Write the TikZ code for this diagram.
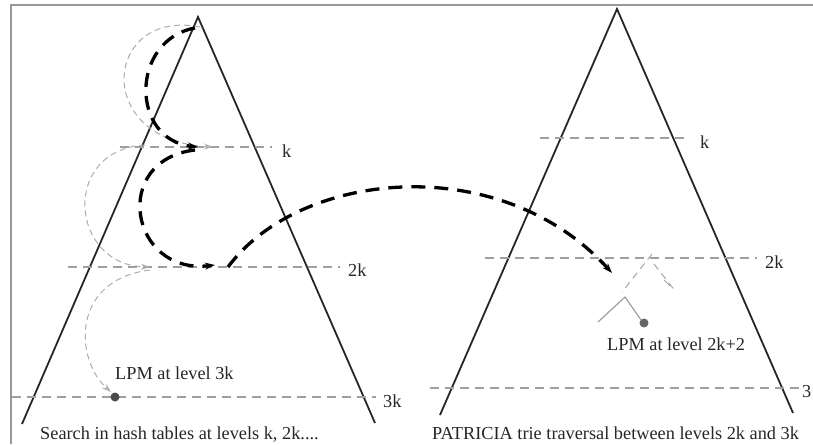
\documentclass[tikz,border=0pt]{standalone}
\usepackage{fontspec}
\setmainfont{Liberation Serif}
\usetikzlibrary{arrows.meta}
\begin{document}
\begin{tikzpicture}[x=1pt,y=-1pt,
  tri/.style={line width=1.8pt,black!85},
  level/.style={line width=1.4pt,gray!75,dash pattern=on 9pt off 6pt},
  thin/.style={line width=1pt,gray!65,dash pattern=on 6pt off 4pt},
  thick/.style={line width=3.3pt,black,dash pattern=on 14pt off 9pt},
  lab/.style={font=\fontsize{18.3}{20}\selectfont,text=black!85,inner sep=0pt,anchor=base west},
  frame/.style={line width=1.5pt,gray!80}]
\useasboundingbox (0,0) rectangle (813,444);
% frame
\draw[frame] (11,444) -- (11,5) -- (813,5);
% left triangle
\coordinate (LA) at (198,17);
\coordinate (LL) at (22,424);
\coordinate (LR) at (375,423);
\draw[tri] (LL) -- (LA) -- (LR);
% right triangle
\coordinate (RA) at (617,9);
\coordinate (RL) at (440,415);
\coordinate (RR) at (793,413);
\draw[tri] (RL) -- (RA) -- (RR);
% levels left
\draw[level] (120,147) -- (272,147);
\draw[level] (68,267) -- (340,267);
\draw[level] (12,397) -- (376,397);
% levels right
\draw[level] (540,138) -- (685,138);
\draw[level] (485,258) -- (757,258);
\draw[level] (430,388) -- (800,388);
% labels
\node[lab] (lk) at (282,157) {k};
\node[lab] (l2k) at (348,276) {2k};
\node[lab] (l3k) at (383,407) {3k};
\node[lab] (rk) at (700,148) {k};
\node[lab] (r2k) at (765,268) {2k};
\node[lab] (r3) at (802,397) {3};
\node[lab] (lpm1) at (115,379) {LPM at level 3k};
\node[lab] (lpm2) at (607,350) {LPM at level 2k+2};
\node[lab] (cap1) at (40,439) {Search in hash tables at levels k, 2k....};
\node[lab] (cap2) at (432,439) {PATRICIA trie traversal between levels 2k and 3k};
% dots
\fill[black!70] (115,397) circle (4.5);
\fill[black!60] (644,323) circle (4.5);
% thin gray search loops
\draw[thin,-{Stealth[open,length=9pt,width=6pt]}] (200,27) .. controls (105,8) and (90,140) .. (213,147);
\draw[thin,-{Stealth[open,length=9pt,width=6pt]}] (145,145) .. controls (60,150) and (70,265) .. (150,267);
\draw[thin,-{Stealth[open,length=9pt,width=6pt]}] (150,270) .. controls (70,280) and (75,360) .. (111,392);
% thick black path
\draw[thick,-{Stealth[length=10pt,width=7pt]}] (195,28) .. controls (130,40) and (130,140) .. (198,147);
\draw[thick,-{Stealth[length=10pt,width=7pt]}] (195,150) .. controls (110,160) and (130,275) .. (215,265);
\draw[thick,-{Stealth[open,length=10pt,width=7pt]}] (228,267) .. controls (300,170) and (500,150) .. (612,273);
% small trie
\draw[line width=1pt,gray!70,dash pattern=on 7pt off 5pt] (652,254) -- (622,292);
\draw[line width=1pt,gray!70,dash pattern=on 7pt off 5pt] (654,264) -- (676,292);
\draw[line width=1pt,gray!70] (664,280) -- (670,286);
\draw[line width=1.2pt,gray!75] (598,322) -- (625,297) -- (641,320);
\end{tikzpicture}
\end{document}
